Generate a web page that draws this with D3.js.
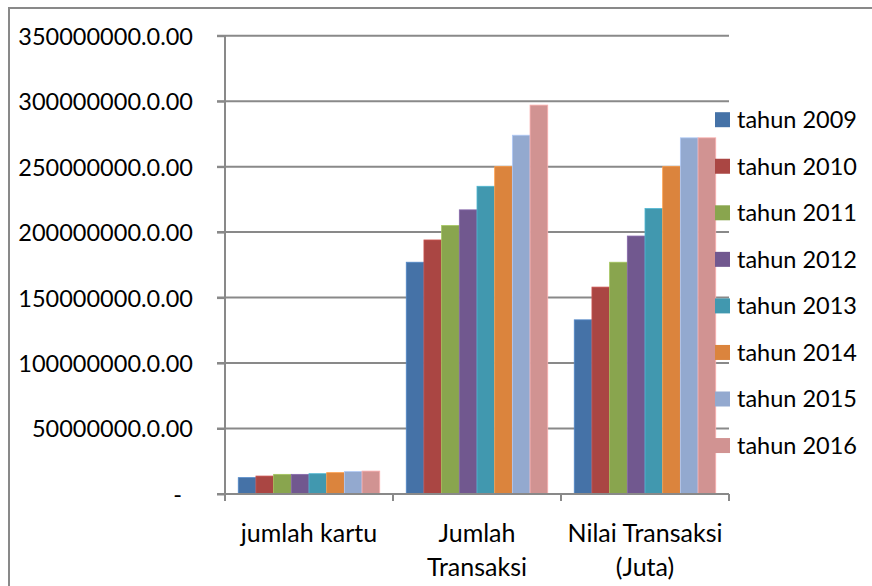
<!DOCTYPE html>
<html>
<head>
<meta charset="utf-8">
<script src="https://cdn.jsdelivr.net/npm/d3@7"></script>
<style>
  body { margin: 0; background: #fff; }
  svg { display: block; font-family: Lato, "Open Sans", sans-serif; }
</style>
</head>
<body>
<svg width="872" height="586"></svg>
<script>
// categories on the x axis, each label split in lines
var categories = ["jumlah kartu", "Jumlah Transaksi", "Nilai Transaksi (Juta)"];
var categoryLines = [["jumlah kartu"], ["Jumlah", "Transaksi"], ["Nilai Transaksi", "(Juta)"]];

var years = ["tahun 2009", "tahun 2010", "tahun 2011", "tahun 2012",
             "tahun 2013", "tahun 2014", "tahun 2015", "tahun 2016"];
var colors = ["#4572A7", "#AA4643", "#89A54E", "#71588F",
              "#4198AF", "#DB843D", "#93A9CF", "#D19392"];

// values per year, in order of categories
var jumlahKartu     = [12.5e6, 13.7e6, 15.0e6, 15.0e6, 15.5e6, 16.3e6, 17.1e6, 17.5e6];
var jumlahTransaksi = [177e6, 194e6, 205e6, 217e6, 235e6, 250e6, 274e6, 297e6];
var nilaiTransaksi  = [133e6, 158e6, 177e6, 197e6, 218e6, 250e6, 272e6, 272e6];

var yTicks = [0, 50e6, 100e6, 150e6, 200e6, 250e6, 300e6, 350e6];
var yTickLabels = ["-", "50000000.0.00", "100000000.0.00", "150000000.0.00",
                   "200000000.0.00", "250000000.0.00", "300000000.0.00", "350000000.0.00"];

var seriesByCategory = [jumlahKartu, jumlahTransaksi, nilaiTransaksi];

var svg = d3.select("svg");
var grey = "#898989";

// outer frame (only top and left edges fall inside the picture)
svg.append("rect")
    .attr("x", 9).attr("y", 8)
    .attr("width", 1000).attr("height", 1000)
    .attr("fill", "none")
    .attr("stroke", grey)
    .attr("stroke-width", 2);

var x0 = d3.scaleBand().domain(categories).range([225, 729]);
var x1 = d3.scaleBand().domain(years).range([0, x0.bandwidth()]).paddingOuter(0.75);
var y = d3.scaleLinear().domain([0, 350e6]).range([494, 35.7]);

// gridlines
svg.append("g")
    .selectAll("line")
    .data(yTicks.slice(1))
    .enter().append("line")
    .attr("x1", 217).attr("x2", 729)
    .attr("y1", function (d) { return y(d) })
    .attr("y2", function (d) { return y(d) })
    .attr("stroke", grey)
    .attr("stroke-width", 2);

// bars
var rows = [];
categories.forEach(function (c, ci) {
    years.forEach(function (yr, yi) {
        rows.push({ cat: c, year: yr, value: seriesByCategory[ci][yi], color: colors[yi] });
    });
});

svg.append("g")
    .selectAll("rect")
    .data(rows)
    .enter().append("rect")
    .attr("x", function (d) { return x0(d.cat) + x1(d.year) })
    .attr("y", function (d) { return y(d.value) })
    .attr("width", x1.bandwidth())
    .attr("height", function (d) { return y(0) - y(d.value) })
    .attr("fill", function (d) { return d.color })
    .attr("stroke", function (d) { return d3.color(d.color).brighter(0.5) })
    .attr("stroke-width", 0.8);

// y axis
var yAxis = svg.append("g")
    .attr("transform", "translate(225,0)")
    .call(d3.axisLeft(y).tickValues(yTicks)
        .tickFormat(function (d, i) { return yTickLabels[i] })
        .tickSize(8).tickSizeOuter(0).tickPadding(24));
yAxis.select(".domain").attr("stroke", grey).attr("stroke-width", 2)
    .attr("d", "M0," + y(350e6) + "V501");
yAxis.selectAll(".tick line").attr("stroke", grey).attr("stroke-width", 2);
yAxis.selectAll(".tick text")
    .attr("fill", "#000")
    .attr("font-size", 23.5)
    .attr("font-family", "Lato, sans-serif")
    .attr("dy", "0.36em");
yAxis.selectAll(".tick text").filter(function (d) { return d === 0 })
    .attr("x", -43);

// x axis
var xAxis = svg.append("g");
xAxis.append("line")
    .attr("x1", 217).attr("x2", 729)
    .attr("y1", y(0)).attr("y2", y(0))
    .attr("stroke", grey).attr("stroke-width", 2);
xAxis.selectAll(".xtick")
    .data(categories.map(function (c) { return x0(c) }).concat([729]))
    .enter().append("line")
    .attr("class", "xtick")
    .attr("x1", function (d) { return d }).attr("x2", function (d) { return d })
    .attr("y1", y(0)).attr("y2", y(0) + 7)
    .attr("stroke", grey).attr("stroke-width", 2);

var labels = xAxis.selectAll(".xlabel")
    .data(categories)
    .enter().append("text")
    .attr("class", "xlabel")
    .attr("text-anchor", "middle")
    .attr("font-size", 25)
    .attr("fill", "#000");
labels.selectAll("tspan")
    .data(function (d, i) { return categoryLines[i].map(function (t) { return { t: t, c: d } }) })
    .enter().append("tspan")
    .attr("x", function (d) { return x0(d.c) + x0.bandwidth() / 2 })
    .attr("y", function (d, i) { return 541.5 + i * 34 })
    .text(function (d) { return d.t });

// legend
var legend = svg.append("g")
    .selectAll("g")
    .data(years)
    .enter().append("g")
    .attr("transform", function (d, i) { return "translate(715," + (119.7 + i * 46.55) + ")" });
legend.append("rect")
    .attr("x", 0).attr("y", -7.5)
    .attr("width", 15).attr("height", 15)
    .attr("fill", function (d, i) { return colors[i] });
legend.append("text")
    .attr("x", 22).attr("y", 8.4)
    .attr("font-size", 23.5)
    .attr("fill", "#000")
    .text(function (d) { return d });
</script>
</body>
</html>
